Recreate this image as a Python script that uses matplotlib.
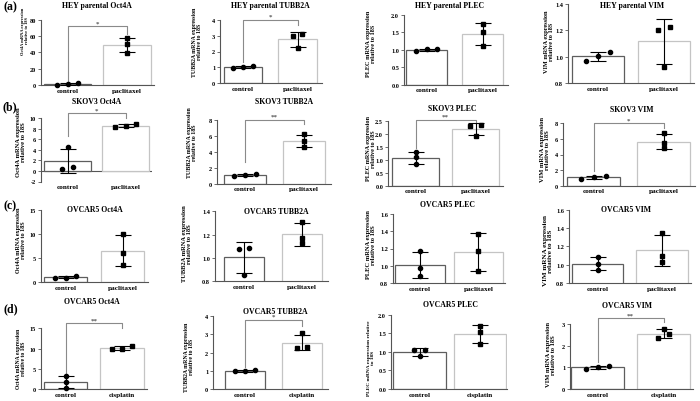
import numpy as np
import matplotlib
matplotlib.use('Agg')
import matplotlib.pyplot as plt

W, H = 700, 402
SERIF = ['Liberation Serif', 'DejaVu Serif']

# ---------------- data ----------------
titles = ["HEY parental Oct4A", "HEY parental TUBB2A", "HEY parental PLEC", "HEY parental VIM",
          "SKOV3 Oct4A", "SKOV3 TUBB2A", "SKOV3 PLEC", "SKOV3 VIM",
          "OVCAR5 Oct4A", "OVCAR5 TUBB2A", "OVCAR5 PLEC", "OVCAR5 VIM",
          "OVCAR5 Oct4A", "OVCAR5 TUBB2A", "OVCAR5 PLEC", "OVCAR5 VIM"]

ylabels = ["Oct4A mRNA expression\nrelative to 18S", "TUBB2A mRNA expression\nrelative to 18S",
           "PLEC mRNA expression\nrelative to 18S", "VIM mRNA expression\nrelative to 18S",
           "Oct4A mRNA expression\nrelative to 18S", "TUBB2A mRNA expression\nrelative to 18S",
           "PLEC mRNA expression\nrelative to 18S", "VIM mRNA expression\nrelative to 18S",
           "Oct4A mRNA expression\nrelative to 18S", "TUBB2A mRNA expression\nrelative to 18S",
           "PLEC mRNA expression\nrelative to 18S", "VIM mRNA expression\nrelative to 18S",
           "Oct4A mRNA expression\nrelative to 18S", "TUBB2A mRNA expression\nrelative to 18S",
           "PLEC mRNA expression relative\nto 18S", "VIM mRNA expression\nrelative to 18S"]

groups = [["control", "paclitaxel"]] * 12 + [["control", "cisplatin"]] * 4

control_pts = [[2.5, 0.5, 1.8], [1.10, 0.93, 1.02], [1.02, 0.96, 1.02], [1.033, 1.003, 0.970],
               [4.5, 0.3, 0.8], [1.25, 1.0, 1.04], [1.28, 1.09, 0.83], [1.24, 0.9, 1.07],
               [1.24, 0.9, 0.9], [1.089, 1.077, 0.854], [1.175, 0.97, 0.885], [1.08, 1.007, 0.942],
               [3.13, 1.65, 0.16], [1.05, 0.97, 0.99], [1.06, 1.05, 0.88], [1.05, 0.93, 1.02]]

treated_pts = [[57.5, 50.0, 39.5], [3.13, 2.98, 2.22], [1.73, 1.52, 1.10], [1.223, 1.205, 0.922],
               [8.9, 8.35, 8.55], [6.17, 5.29, 4.63], [2.32, 2.31, 1.92], [6.7, 5.5, 4.8],
               [9.98, 5.99, 3.58], [1.311, 1.171, 1.126], [1.37, 1.17, 0.94], [1.345, 1.09, 1.03],
               [10.63, 9.8, 9.97], [3.06, 2.28, 2.33], [1.69, 1.54, 1.21], [2.77, 2.54, 2.34]]

yticks = [[0, 20, 40, 60, 80], [0, 1, 2, 3, 4], [0.0, 0.5, 1.0, 1.5, 2.0], [0.8, 1.0, 1.2, 1.4],
          [-2, 0, 2, 4, 6, 8, 10], [0, 2, 4, 6, 8], [0.0, 0.5, 1.0, 1.5, 2.0, 2.5], [0, 2, 4, 6, 8],
          [0, 5, 10, 15], [0.8, 1.0, 1.2, 1.4], [0.8, 1.0, 1.2, 1.4, 1.6], [0.8, 1.0, 1.2, 1.4, 1.6],
          [0, 5, 10, 15], [0, 1, 2, 3, 4], [0.0, 0.5, 1.0, 1.5, 2.0], [0, 1, 2, 3]]
ytick_fmt = ["{:.0f}", "{:.0f}", "{:.1f}", "{:.1f}",
             "{:.0f}", "{:.0f}", "{:.1f}", "{:.0f}",
             "{:.0f}", "{:.1f}", "{:.1f}", "{:.1f}",
             "{:.0f}", "{:.0f}", "{:.1f}", "{:.0f}"]

sig_labels = ["*", "*", "", "", "*", "**", "**", "*", "", "", "", "", "**", "*", "", "**"]
# bracket: (height, left end, right end) in data units
brackets = [(72, 5, 62), (4.0, 1.35, 3.68), None, None,
            (10.95, 6.7, 10.0), (8.0, 2.67, 7.46), (2.54, 1.44, 2.41), (8.0, 1.9, 7.35),
            None, None, None, None,
            (16.24, 3.96, 15.0), (3.82, 1.19, 3.45), None, (3.26, 1.23, 3.08)]

row_letters = ["(a)", "(b)", "(c)", "(d)"]

# ---------------- layout (pixels) ----------------
# (spine x, control centre x, treated centre x, top y, bottom y, bar width in category units)
layout = [(41, 67.5, 127, 20.7, 86, 0.79), (220, 243, 297.5, 21, 84, 0.70),
          (404, 426.5, 482.5, 16, 85.7, 0.72), (568, 598, 664, 5, 84, 0.79),
          (41, 67.5, 125.5, 119.3, 182.5, 0.80), (217, 245, 304, 120.7, 184.7, 0.72),
          (388, 415.5, 475.5, 121.7, 186.7, 0.78), (563, 593.5, 663.5, 124.3, 186.7, 0.77),
          (41, 65.5, 122.5, 210.7, 283.3, 0.76), (215, 244, 302, 212.3, 282.3, 0.68),
          (393, 420, 478.5, 215, 284, 0.84), (569, 597.5, 662, 210.7, 284, 0.80),
          (41, 65.5, 122, 329.3, 390, 0.77), (213, 245, 302, 317.3, 390, 0.70),
          (391, 419.5, 480, 315.7, 390, 0.86), (570, 597.5, 663.5, 325, 390, 0.80)]
title_px = [(97, 6), (270, 6), (450, 6), (632, 6),
            (97, 102), (284, 102), (452, 109), (632, 110),
            (95, 210), (276, 212), (448, 205), (626, 210),
            (92, 302), (275, 312), (450, 305), (627, 306)]
ylabel_px = [(25, 31), (197, 42), (371, 44), (549, 42),
             (21, 142), (192, 143), (371, 149), (545, 150),
             (21, 240), (187, 244), (371, 245), (548, 251),
             (21, 359), (189, 357), (371, 358), (551, 355)]
ylabel_fs = [3.2, 4.2, 4.5, 4.5, 4.7, 4.3, 4.4, 4.7, 4.4, 4.7, 4.7, 5.1, 4.1, 4.2, 3.9, 4.7]
letter_px = [(10, 7.5), (10, 107), (10, 206), (11, 309)]

CTRL_EDGE = '#5e5e5e'
TRT_EDGE = '#c4c4c4'
SPINE = '#555555'
BRACKET = '#8a8a8a'

fig = plt.figure(figsize=(W / 100, H / 100), dpi=100)


def fx(x):
    return x / W


def fy(y):
    return 1 - y / H


def jitter(vals, span):
    vals = np.asarray(vals, float)
    order = np.argsort(vals)
    offs = np.zeros(len(vals))
    clusters = [[order[0]]]
    for i in order[1:]:
        if (vals[i] - vals[clusters[-1][-1]]) / span < 0.07:
            clusters[-1].append(i)
        else:
            clusters.append([i])
    for c in clusters:
        n = len(c)
        if n > 1:
            o = np.linspace(-0.09 * (n - 1), 0.09 * (n - 1), n)
            for k, idx in enumerate(c):
                offs[idx] = o[k]
    return offs


for i in range(16):
    sx, c0, c1, t, b, bw = layout[i]
    d = c1 - c0
    right = c1 + 0.45 * d
    ax = fig.add_axes([fx(sx), fy(b), (right - sx) / W, (b - t) / H])
    ax.patch.set_alpha(0)
    yt = yticks[i]
    ymin, ymax = yt[0], yt[-1]
    ax.set_ylim(ymin, ymax)
    ax.set_xlim((sx - c0) / d, 1.45)
    span = ymax - ymin

    c = np.array(control_pts[i])
    tr = np.array(treated_pts[i])
    means = [c.mean(), tr.mean()]
    sds = [c.std(ddof=1), tr.std(ddof=1)]
    ax.bar([0, 1], means, width=bw, bottom=0, facecolor='white',
           edgecolor=[CTRL_EDGE, TRT_EDGE], linewidth=0.9, zorder=2)
    ax.errorbar([0, 1], means, yerr=sds, fmt='none', ecolor='black', elinewidth=0.8,
                capsize=6, capthick=0.8, zorder=3)
    ax.plot(0 + jitter(c, span), c, 'o', color='black', markersize=3.0, zorder=4, clip_on=False)
    ax.plot(1 + jitter(tr, span), tr, 's', color='black', markersize=2.8, zorder=4, clip_on=False)

    for side in ['top', 'right']:
        ax.spines[side].set_visible(False)
    ax.spines['left'].set_color(SPINE)
    ax.spines['left'].set_linewidth(0.8)
    if ymin < 0:
        ax.spines['bottom'].set_visible(False)
        ax.axhline(0, color=SPINE, linewidth=0.8, zorder=1)
    else:
        ax.spines['bottom'].set_color(SPINE)
        ax.spines['bottom'].set_linewidth(0.8)

    ax.set_yticks(yt)
    ax.set_yticklabels([ytick_fmt[i].format(v) for v in yt])
    ax.tick_params(axis='y', length=2, width=0.6, color=SPINE, pad=1.5, labelsize=4.5)
    ax.set_xticks([0, 1])
    ax.set_xticklabels(groups[i])
    ax.tick_params(axis='x', length=0, pad=2.0, labelsize=5.2)
    for lab in ax.get_xticklabels() + ax.get_yticklabels():
        lab.set_family(SERIF)
        lab.set_fontweight('bold')

    if brackets[i] is not None:
        h, le, re = brackets[i]
        ax.plot([0, 0, 1, 1], [le, h, h, re], color=BRACKET, linewidth=0.8, clip_on=False, zorder=1)
        ax.annotate(sig_labels[i], xy=(0.5, h), xytext=(0, 0.8), textcoords='offset points',
                    ha='center', va='bottom', fontsize=5, color='#555555',
                    family=SERIF, fontweight='bold', annotation_clip=False)

    tx, ty = title_px[i]
    fig.text(fx(tx), fy(ty), titles[i], ha='center', va='center', fontsize=5.6,
             family=SERIF, fontweight='bold')
    lx, ly = ylabel_px[i]
    fig.text(fx(lx), fy(ly), ylabels[i], ha='center', va='center', rotation=90,
             fontsize=ylabel_fs[i], family=SERIF, fontweight='bold',
             multialignment='center', linespacing=0.95)

for k, letter in enumerate(row_letters):
    lx, ly = letter_px[k]
    fig.text(fx(lx), fy(ly), letter, ha='center', va='center', fontsize=8.5,
             family=SERIF, fontweight='bold')

fig.savefig('out.png', dpi=100)
